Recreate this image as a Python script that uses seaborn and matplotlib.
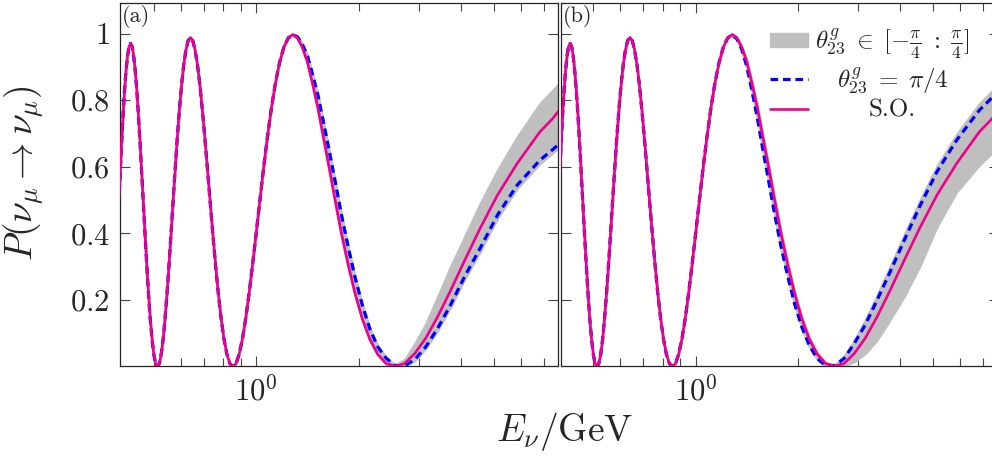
import numpy as np
import pandas as pd
import matplotlib
matplotlib.use("Agg")
import matplotlib.pyplot as plt
import seaborn as sns
from matplotlib.ticker import FixedLocator, FixedFormatter, NullFormatter
from matplotlib.patches import Patch
from matplotlib.lines import Line2D

# ---------------- data ----------------
# low-energy part: all curves coincide
E_low = [0.3938, 0.3977, 0.4016, 0.4055, 0.4096, 0.4137, 0.4180, 0.4223, 0.4267,
         0.4312, 0.4357, 0.4404, 0.4452, 0.4501, 0.4551, 0.4602, 0.4655, 0.4708,
         0.4763, 0.4819, 0.4876, 0.4935, 0.4995, 0.5057, 0.5120, 0.5185, 0.5251,
         0.5320, 0.5389, 0.5461, 0.5535, 0.5611, 0.5689, 0.5769, 0.5851, 0.5936,
         0.6024, 0.6113, 0.6206, 0.6302, 0.6400, 0.6502, 0.6606, 0.6715, 0.6827,
         0.6942, 0.7062, 0.7186, 0.7314, 0.7447, 0.7585, 0.7728, 0.7877, 0.8031,
         0.8192, 0.8359, 0.8533, 0.8715, 0.8904, 0.9102, 0.9309, 0.9526, 0.9752,
         0.9990, 1.0240, 1.0503, 1.0779, 1.1070, 1.1378, 1.1703, 1.2047, 1.2412]
P_low = [0.485, 0.580, 0.671, 0.754, 0.828, 0.888, 0.933, 0.961, 0.970,
         0.961, 0.933, 0.888, 0.828, 0.754, 0.671, 0.580, 0.487, 0.394,
         0.303, 0.218, 0.143, 0.083, 0.037, 0.009, 0.001, 0.010, 0.038,
         0.083, 0.145, 0.220, 0.305, 0.398, 0.494, 0.590, 0.683, 0.768,
         0.843, 0.905, 0.950, 0.979, 0.988, 0.979, 0.950, 0.905, 0.843,
         0.768, 0.683, 0.590, 0.495, 0.400, 0.307, 0.221, 0.146, 0.084,
         0.038, 0.010, 0.001, 0.010, 0.038, 0.084, 0.146, 0.222, 0.308,
         0.401, 0.498, 0.596, 0.689, 0.775, 0.851, 0.913, 0.959, 0.987]

# high-energy part
E_high = [1.2800, 1.3213, 1.3653, 1.4124, 1.4629, 1.5170, 1.5754, 1.6384, 1.7067,
          1.7809, 1.8618, 1.9505, 2.0480, 2.1558, 2.2756, 2.4094, 2.5600, 2.7307,
          2.9257, 3.1508, 3.4133, 3.7236, 4.0960, 4.5511, 5.1200, 5.8514, 6.8267,
          7.4473, 7.9000]
so_high = [0.997, 0.987, 0.959, 0.916, 0.851, 0.778, 0.689, 0.598, 0.499, 0.400,
           0.309, 0.222, 0.146, 0.084, 0.038, 0.010, 0.002, 0.010, 0.040, 0.086,
           0.150, 0.228, 0.318, 0.415, 0.515, 0.610, 0.705, 0.745, 0.778]
# panel (a)
a_blue_high = [0.996, 0.990, 0.968, 0.934, 0.878, 0.816, 0.734, 0.648, 0.555, 0.455,
               0.361, 0.270, 0.187, 0.115, 0.060, 0.026, 0.004, 0.003, 0.022, 0.060,
               0.115, 0.185, 0.270, 0.355, 0.455, 0.545, 0.620, 0.652, 0.675]
a_hi_high = [0.998, 0.992, 0.971, 0.937, 0.881, 0.819, 0.737, 0.651, 0.558, 0.458,
             0.364, 0.273, 0.190, 0.118, 0.063, 0.028, 0.006, 0.022, 0.070, 0.130,
             0.210, 0.300, 0.390, 0.490, 0.590, 0.690, 0.790, 0.830, 0.858]
a_lo_high = [0.994, 0.984, 0.954, 0.909, 0.841, 0.766, 0.675, 0.584, 0.485, 0.388,
             0.298, 0.213, 0.139, 0.078, 0.034, 0.007, 0.001, 0.002, 0.018, 0.055,
             0.108, 0.178, 0.262, 0.345, 0.445, 0.535, 0.610, 0.642, 0.664]
# panel (b)
b_blue_high = [0.996, 0.984, 0.952, 0.902, 0.828, 0.747, 0.651, 0.557, 0.457, 0.361,
               0.274, 0.191, 0.121, 0.065, 0.025, 0.004, 0.004, 0.025, 0.070, 0.126,
               0.200, 0.283, 0.378, 0.480, 0.585, 0.680, 0.770, 0.808, 0.838]
b_hi_high = [0.998, 0.989, 0.962, 0.921, 0.858, 0.786, 0.698, 0.608, 0.509, 0.410,
             0.318, 0.230, 0.153, 0.090, 0.043, 0.013, 0.005, 0.032, 0.080, 0.140,
             0.215, 0.300, 0.395, 0.497, 0.602, 0.698, 0.790, 0.828, 0.855]
b_lo_high = [0.994, 0.981, 0.948, 0.898, 0.824, 0.743, 0.647, 0.553, 0.453, 0.357,
             0.270, 0.187, 0.117, 0.062, 0.022, 0.002, 0.002, 0.004, 0.015, 0.040,
             0.080, 0.140, 0.210, 0.300, 0.420, 0.525, 0.605, 0.642, 0.664]

y_ticks = [0.2, 0.4, 0.6, 0.8, 1.0]
y_ticklabels = ["$0.2$", "$0.4$", "$0.6$", "$0.8$", "$1$"]
x_major = [1.0]
x_major_labels = ["$10^{0}$"]
x_minor = [0.5, 0.6, 0.7, 0.8, 0.9, 2, 3, 4, 5, 6, 7]
panel_labels = ["(a)", "(b)"]
legend_labels = [r"$\theta^g_{23}\;\in\;[-\frac{\pi}{4}\;:\;\frac{\pi}{4}]$",
                 r"$\theta^g_{23}\;=\;\pi/4$", "S.O."]

# ---------------- style ----------------
sns.set_style("ticks")
plt.rcParams["mathtext.fontset"] = "cm"
plt.rcParams["font.family"] = ["cmr10", "DejaVu Serif"]
plt.rcParams["axes.formatter.use_mathtext"] = True

C_BAND = "#bfbfbf"
C_BLUE = "#0000ff"
C_PINK = "#ec008c"
DASH = (0, (2.4, 1.5))

E = np.array(E_low + E_high)
so = np.array(P_low + so_high)
panels = {
    "a": dict(blue=np.array(P_low + a_blue_high), lo=np.array(P_low + a_lo_high),
              hi=np.array(P_low + a_hi_high)),
    "b": dict(blue=np.array(P_low + b_blue_high), lo=np.array(P_low + b_lo_high),
              hi=np.array(P_low + b_hi_high)),
}

fig = plt.figure(figsize=(9.92, 4.57), dpi=100)
W, H = 992.0, 457.0
axa = fig.add_axes([119.5 / W, 91.5 / H, 438 / W, 363 / H])
axb = fig.add_axes([560.5 / W, 91.5 / H, 438 / W, 363 / H])

xlims = {"a": (0.396, 7.69), "b": (0.400, 7.77)}

for key, ax, lab in [("a", axa, panel_labels[0]), ("b", axb, panel_labels[1])]:
    d = panels[key]
    df = pd.DataFrame({"E": E, "so": so, "blue": d["blue"]})
    ax.fill_between(E, d["lo"], d["hi"], color=C_BAND, edgecolor=C_BAND,
                    linewidth=1.6, zorder=1)
    sns.lineplot(data=df, x="E", y="blue", ax=ax, color=C_BLUE, lw=2.3,
                 linestyle=DASH, estimator=None, sort=False, zorder=2)
    sns.lineplot(data=df, x="E", y="so", ax=ax, color=C_PINK, lw=1.9,
                 estimator=None, sort=False, zorder=3,
                 solid_joinstyle="round", solid_capstyle="round")
    ax.set_xscale("log")
    ax.set_xlim(*xlims[key])
    ax.set_ylim(0.004, 1.093)
    ax.xaxis.set_major_locator(FixedLocator(x_major))
    ax.xaxis.set_major_formatter(FixedFormatter(x_major_labels))
    ax.xaxis.set_minor_locator(FixedLocator(x_minor))
    ax.xaxis.set_minor_formatter(NullFormatter())
    ax.yaxis.set_major_locator(FixedLocator(y_ticks))
    ax.yaxis.set_major_formatter(FixedFormatter(y_ticklabels))
    ax.yaxis.set_minor_locator(FixedLocator([]))
    ax.tick_params(which="both", direction="in", top=True, right=True,
                   color="#444444", width=0.8)
    ax.tick_params(which="major", length=7, labelsize=22, pad=7)
    ax.tick_params(which="minor", length=5.5)
    for s in ax.spines.values():
        s.set_color("#222222")
        s.set_linewidth(0.9)
    ax.set_xlabel("")
    ax.set_ylabel("")
    ax.text(0.006, 0.993, lab, transform=ax.transAxes,
            ha="left", va="top", fontsize=16, family="cmr10")

axb.tick_params(labelleft=False)

axa.set_ylabel(r"$P(\nu_\mu \to \nu_\mu)$", fontsize=27)
axa.yaxis.set_label_coords(-0.17, 0.53)
fig.text(565 / W, (H - 441) / H, r"$E_\nu/\mathrm{GeV}$", fontsize=27,
         ha="center", va="baseline")

handles = [Patch(facecolor=C_BAND, edgecolor=C_BAND),
           Line2D([], [], color=C_BLUE, lw=2.3, linestyle=DASH),
           Line2D([], [], color=C_PINK, lw=1.9)]
leg = axb.legend(handles, legend_labels, loc="upper left",
                 bbox_to_anchor=(770 / W, 1 - 27 / H), bbox_transform=fig.transFigure,
                 frameon=False, prop={"family": "cmr10", "size": 18},
                 handlelength=1.5, handleheight=0.5,
                 handletextpad=0.3, labelspacing=0.15, borderpad=0, borderaxespad=0)

fig.canvas.draw()
r = fig.canvas.get_renderer()
texts = leg.get_texts()
ws = [t.get_window_extent(r).width for t in texts]
mw = max(ws)
for t, w in zip(texts, ws):
    t.set_position(((mw - w) / 2.0, 0))

fig.savefig("out.png", dpi=100)
